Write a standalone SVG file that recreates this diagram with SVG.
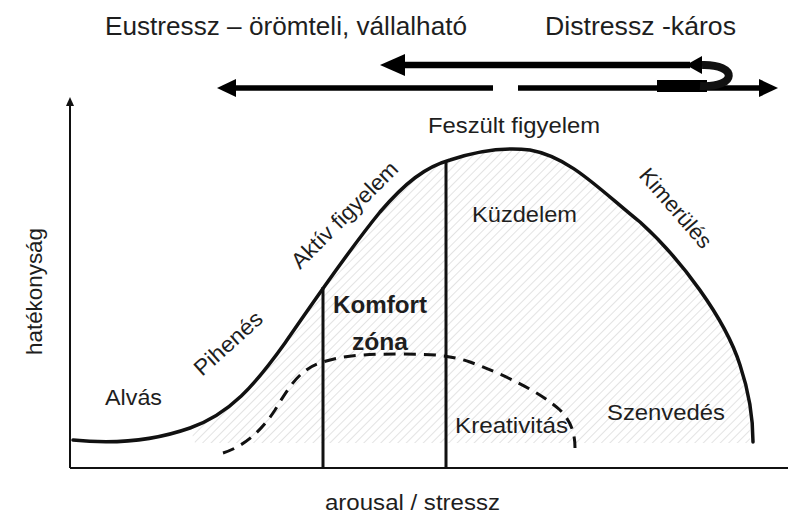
<svg xmlns="http://www.w3.org/2000/svg" width="794" height="517" viewBox="0 0 794 517">
<defs>
<pattern id="hatch" patternUnits="userSpaceOnUse" width="6" height="6" patternTransform="rotate(45)">
<line x1="0" y1="0" x2="0" y2="6" stroke="#dcdcdc" stroke-width="1.6"/>
</pattern>
<style>
text{font-family:"Liberation Sans",Arial,sans-serif;fill:#1e1e1e;}
.top{font-size:25px;}
.lbl{font-size:22px;}
.bold{font-size:23px;font-weight:bold;}
.curve{fill:none;stroke:#111;stroke-width:3.5;stroke-linecap:round;}
.dash{fill:none;stroke:#111;stroke-width:3;stroke-dasharray:12 8;}
.axis{fill:none;stroke:#111;stroke-width:2;}
.vline{stroke:#111;stroke-width:3;}
.arr{stroke:#000;stroke-width:5.5;fill:none;}
</style>
</defs>
<rect width="794" height="517" fill="#fff"/>

<g id="hatching">
<path d="M195,443 L190,428 C230,414 255,385 285,343 C315,300 345,255 380,212 C405,183 425,167 450,160 C480,150 505,147 530,150 C570,157 600,190 640,222 C680,258 725,318 740,365 C748,392 750,420 750,443 Z" fill="url(#hatch)"/>
</g>

<g id="axes">
<line class="axis" x1="70" y1="468" x2="788" y2="468"/>
<line class="axis" x1="70" y1="468" x2="70" y2="104"/>
<polygon points="70,97 66,106 74,106" fill="#111"/>
</g>

<g id="connectors">
<path class="curve" d="M73,440 C110,444 150,442 190,428 C230,414 255,385 285,343 C315,300 345,255 380,212 C405,183 425,167 450,160 C480,150 505,147 530,150 C570,157 600,190 640,222 C680,258 725,318 740,365 C750,395 753,420 753,442"/>
<path class="dash" d="M223,453 C245,446 262,430 275,410 C290,385 300,370 320,363 C340,356 360,354 400,354 C430,354 450,355 470,362 C505,375 540,392 560,410 C572,422 575,435 575,448"/>
<line class="vline" x1="323" y1="287" x2="323" y2="468"/>
<line class="vline" x1="446" y1="161" x2="446" y2="468"/>

<line class="arr" x1="232" y1="88" x2="493" y2="88"/>
<polygon points="217,88 236,79 236,97" fill="#000"/>
<line class="arr" x1="518" y1="88" x2="762" y2="88"/>
<polygon points="778,88 759,79 759,97" fill="#000"/>
<line x1="400" y1="65" x2="690" y2="65" stroke="#000" stroke-width="6.5"/>
<polygon points="380,65 405,54 405,76" fill="#000"/>
<rect x="657" y="80" width="50" height="12" fill="#000"/>
<path d="M700,86 C738,88 738,64 702,65" fill="none" stroke="#111" stroke-width="8"/>
<polygon points="686,65 702,56 702,74" fill="#000"/>
</g>

<g id="title-eustressz"><text class="top" x="105" y="35" textLength="362" lengthAdjust="spacingAndGlyphs">Eustressz – örömteli, vállalható</text></g>
<g id="title-distressz"><text class="top" x="545" y="35" textLength="191" lengthAdjust="spacingAndGlyphs">Distressz -káros</text></g>

<g id="label-feszult"><text class="lbl" x="428" y="133" textLength="172" lengthAdjust="spacingAndGlyphs">Feszült figyelem</text></g>
<g id="label-kuzdelem"><text class="lbl" x="472" y="222" textLength="105" lengthAdjust="spacingAndGlyphs">Küzdelem</text></g>
<g id="label-szenvedes"><text class="lbl" x="607" y="420" textLength="118" lengthAdjust="spacingAndGlyphs">Szenvedés</text></g>
<g id="label-kreativitas"><text class="lbl" x="455" y="433" textLength="113" lengthAdjust="spacingAndGlyphs">Kreativitás</text></g>
<g id="label-alvas"><text class="lbl" x="105" y="405" textLength="57" lengthAdjust="spacingAndGlyphs">Alvás</text></g>
<g id="label-komfort"><text class="bold" x="333" y="313" textLength="94" lengthAdjust="spacingAndGlyphs">Komfort</text></g>
<g id="label-zona"><text class="bold" x="352" y="350" textLength="56" lengthAdjust="spacingAndGlyphs">zóna</text></g>
<g id="label-aktiv"><text class="lbl" transform="translate(300,270) rotate(-45)" textLength="141" lengthAdjust="spacingAndGlyphs">Aktív figyelem</text></g>
<g id="label-pihenes"><text class="lbl" transform="translate(202,377) rotate(-42)" textLength="84" lengthAdjust="spacingAndGlyphs">Pihenés</text></g>
<g id="label-kimerules"><text class="lbl" transform="translate(638,176) rotate(49)" textLength="98" lengthAdjust="spacingAndGlyphs">Kimerülés</text></g>
<g id="label-hatekonysag"><text class="lbl" transform="translate(42,355) rotate(-90)" textLength="127" lengthAdjust="spacingAndGlyphs">hatékonyság</text></g>
<g id="label-arousal"><text class="lbl" x="325" y="510" textLength="175" lengthAdjust="spacingAndGlyphs">arousal / stressz</text></g>
</svg>
